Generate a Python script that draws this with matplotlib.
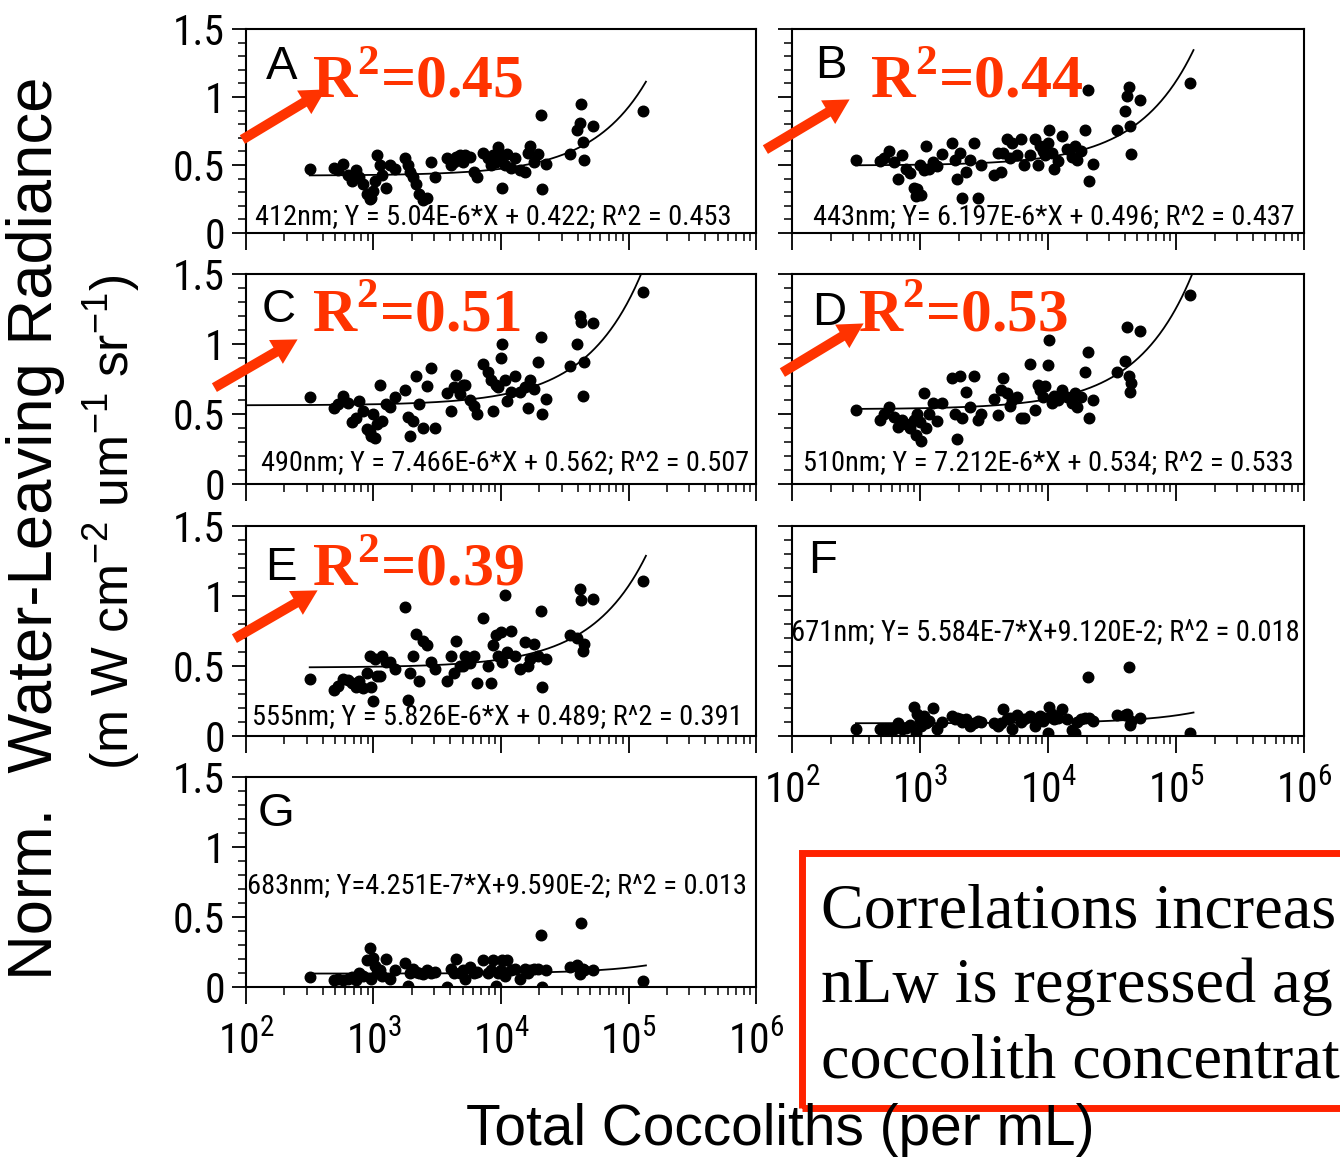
import numpy as np
import matplotlib
matplotlib.use('Agg')
import matplotlib.pyplot as plt
from matplotlib import font_manager
from matplotlib.font_manager import FontProperties
from matplotlib.patches import Rectangle, FancyArrowPatch
from matplotlib.ticker import LogLocator, NullFormatter, MultipleLocator, FixedLocator, FixedFormatter

# ---------------- data ----------------
coccoliths = [316, 490, 525, 575, 631, 676, 724, 776, 832, 891, 933, 955, 1000, 1023,
              1072, 1122, 1175, 1259, 1349, 1479, 1778, 1862, 1950, 2042, 2138, 2291,
              2455, 2630, 2818, 3020, 3802, 4074, 4266, 4467, 4786, 5012, 5248, 5754,
              6166, 6457, 7244, 7943, 8318, 8710, 9120, 9550, 10000, 10230, 10720,
              11220, 12020, 12880, 14130, 15490, 16220, 16980, 18200, 19500, 20420,
              20890, 22390, 34670, 39810, 41690, 42660, 43650, 44670, 52480, 128800]

nlw_412 = [0.47, 0.48, 0.46, 0.51, 0.43, 0.38, 0.46, 0.41, 0.36, 0.29,
           0.25, 0.26, 0.31, 0.38, 0.57, 0.50, 0.43, 0.33, 0.50, 0.47,
           0.55, 0.50, 0.45, 0.41, 0.36, 0.29, 0.24, 0.26, 0.52, 0.41,
           0.55, 0.50, 0.52, 0.56, 0.57, 0.52, 0.57, 0.56, 0.45, 0.41,
           0.59, 0.55, 0.50, 0.57, 0.52, 0.63, 0.57, 0.33, 0.50, 0.58,
           0.48, 0.55, 0.46, 0.45, 0.59, 0.64, 0.52, 0.58, 0.87, 0.32,
           0.51, 0.58, 0.76, 0.81, 0.95, 0.67, 0.54, 0.79, 0.90]
nlw_443 = [0.54, 0.53, 0.55, 0.60, 0.52, 0.40, 0.57, 0.47, 0.44, 0.33,
           0.27, 0.32, 0.50, 0.28, 0.46, 0.64, 0.47, 0.52, 0.49, 0.58,
           0.66, 0.54, 0.40, 0.59, 0.26, 0.45, 0.54, 0.66, 0.26, 0.50,
           0.43, 0.59, 0.45, 0.59, 0.69, 0.55, 0.66, 0.57, 0.69, 0.50,
           0.57, 0.69, 0.50, 0.64, 0.60, 0.57, 0.66, 0.76, 0.59, 0.47,
           0.53, 0.71, 0.62, 0.56, 0.64, 0.54, 0.60, 0.76, 1.05, 0.38,
           0.51, 0.76, 0.90, 1.01, 1.07, 0.79, 0.58, 0.98, 1.10]
nlw_490 = [0.62, 0.54, 0.57, 0.63, 0.58, 0.44, 0.47, 0.59, 0.52, 0.39,
           0.37, 0.34, 0.50, 0.33, 0.43, 0.71, 0.45, 0.57, 0.55, 0.62,
           0.67, 0.48, 0.34, 0.45, 0.77, 0.57, 0.40, 0.70, 0.83, 0.40,
           0.65, 0.52, 0.69, 0.78, 0.64, 0.71, 0.71, 0.60, 0.56, 0.50,
           0.86, 0.80, 0.74, 0.52, 0.71, 0.69, 0.90, 1.00, 0.74, 0.59,
           0.66, 0.77, 0.66, 0.69, 0.54, 0.74, 0.68, 0.87, 1.05, 0.50,
           0.61, 0.84, 1.00, 1.20, 1.16, 0.63, 0.87, 1.15, 1.37]
nlw_510 = [0.53, 0.46, 0.50, 0.55, 0.48, 0.41, 0.46, 0.43, 0.40, 0.46,
           0.35, 0.50, 0.44, 0.31, 0.65, 0.40, 0.50, 0.58, 0.45, 0.58,
           0.76, 0.50, 0.32, 0.77, 0.47, 0.66, 0.55, 0.77, 0.46, 0.50,
           0.61, 0.49, 0.67, 0.76, 0.65, 0.56, 0.60, 0.62, 0.47, 0.47,
           0.86, 0.53, 0.71, 0.67, 0.62, 0.70, 0.85, 1.03, 0.58, 0.63,
           0.60, 0.67, 0.62, 0.58, 0.65, 0.55, 0.62, 0.80, 0.94, 0.47,
           0.60, 0.80, 0.88, 1.12, 0.77, 0.66, 0.72, 1.09, 1.35]
nlw_555 = [0.41, 0.33, 0.36, 0.41, 0.40, 0.38, 0.35, 0.39, 0.34, 0.45,
           0.57, 0.35, 0.25, 0.55, 0.43, 0.43, 0.57, 0.53, 0.53, 0.48,
           0.92, 0.26, 0.45, 0.57, 0.73, 0.39, 0.68, 0.65, 0.53, 0.48,
           0.39, 0.57, 0.45, 0.68, 0.50, 0.50, 0.57, 0.52, 0.57, 0.38,
           0.84, 0.50, 0.38, 0.65, 0.72, 0.57, 0.74, 0.53, 1.01, 0.60,
           0.75, 0.57, 0.48, 0.67, 0.50, 0.55, 0.66, 0.57, 0.89, 0.35,
           0.55, 0.72, 0.70, 1.05, 0.97, 0.61, 0.66, 0.98, 1.11]
nlw_671 = [0.05, 0.05, 0.05, 0.05, 0.05, 0.09, 0.05, 0.06, 0.08, 0.21,
           0.02, 0.16, 0.12, 0.07, 0.14, 0.09, 0.11, 0.20, 0.05, 0.10,
           0.14, 0.12, 0.13, 0.12, 0.10, 0.12, 0.07, 0.09, 0.11, 0.10,
           0.09, 0.07, 0.09, 0.19, 0.12, 0.13, 0.05, 0.15, 0.10, 0.12,
           0.14, 0.07, 0.12, 0.14, 0.11, 0.13, 0.02, 0.21, 0.16, 0.12,
           0.13, 0.19, 0.12, 0.04, 0.02, 0.10, 0.12, 0.13, 0.42, 0.13,
           0.11, 0.15, 0.15, 0.16, 0.49, 0.08, 0.11, 0.13, 0.02]
nlw_683 = [0.07, 0.05, 0.06, 0.05, 0.06, 0.07, 0.05, 0.10, 0.08, 0.19,
           0.28, 0.06, 0.21, 0.15, 0.10, 0.12, 0.08, 0.20, 0.06, 0.12,
           0.17, 0.01, 0.10, 0.13, 0.11, 0.10, 0.09, 0.12, 0.10, 0.11,
           0.00, 0.13, 0.10, 0.20, 0.10, 0.12, 0.06, 0.14, 0.10, 0.11,
           0.19, 0.10, 0.12, 0.19, 0.01, 0.10, 0.12, 0.19, 0.08, 0.19,
           0.12, 0.13, 0.06, 0.13, 0.10, 0.12, 0.13, 0.13, 0.37, 0.00,
           0.12, 0.14, 0.16, 0.09, 0.46, 0.13, 0.12, 0.12, 0.04]

panel_letters = ['A', 'B', 'C', 'D', 'E', 'F', 'G']
wavelengths = [412, 443, 490, 510, 555, 671, 683]
slopes = [5.04e-6, 6.197e-6, 7.466e-6, 7.212e-6, 5.826e-6, 5.584e-7, 4.251e-7]
intercepts = [0.422, 0.496, 0.562, 0.534, 0.489, 9.120e-2, 9.590e-2]
eq_labels = ["412nm; Y = 5.04E-6*X + 0.422; R^2 = 0.453",
             "443nm; Y= 6.197E-6*X + 0.496; R^2 = 0.437",
             "490nm; Y = 7.466E-6*X + 0.562; R^2 = 0.507",
             "510nm; Y = 7.212E-6*X + 0.534; R^2 = 0.533",
             "555nm; Y = 5.826E-6*X + 0.489; R^2 = 0.391",
             "671nm; Y= 5.584E-7*X+9.120E-2; R^2 = 0.018",
             "683nm; Y=4.251E-7*X+9.590E-2; R^2 = 0.013"]
r2_callouts = ["0.45", "0.44", "0.51", "0.53", "0.39"]
y_series = [nlw_412, nlw_443, nlw_490, nlw_510, nlw_555, nlw_671, nlw_683]
# the note box runs off the right edge of the slide; only its visible part is kept
box_lines = ["Correlations increas", "nLw is regressed ag", "coccolith concentrat"]

# ---------------- fonts ----------------
SANS = 'Liberation Sans'
SERIF = 'Liberation Serif'
cond = None
prefs = ['Liberation Sans Narrow', 'Roboto Condensed', 'Open Sans Condensed', 'DejaVu Sans']
for pname in prefs:
    for f in font_manager.fontManager.ttflist:
        if f.name == pname and f.style == 'normal' and f.weight in (400, 'normal', 'regular', 'book') \
                and ('ondensed' in str(f.stretch) or 'Narrow' in f.name or 'Condensed' in f.name
                     or 'Condensed' in f.fname or 'Narrow' in f.fname):
            cond = f.fname
            break
    if cond:
        break
if cond:
    NFP = FontProperties(fname=cond)
    TICK_SIZE = 30
else:
    NFP = FontProperties(family=SANS)
    TICK_SIZE = 28

plt.rcParams['font.family'] = [SANS, 'DejaVu Sans']
plt.rcParams['mathtext.fontset'] = 'dejavusans'

W, H = 1340, 1167
fig = plt.figure(figsize=(W / 100, H / 100), dpi=100)
renderer = fig.canvas.get_renderer()

def fx(x):
    return x / W

def fy(y):
    return 1 - y / H

def fit(t, target, dim='w'):
    bb = t.get_window_extent(renderer)
    cur = bb.width if dim == 'w' else bb.height
    t.set_fontsize(t.get_fontsize() * target / cur)

cols = [(246, 756), (792, 1304)]
rows = [(29, 233), (274, 484), (526, 736), (777, 987)]
grid = [(0, 0), (0, 1), (1, 0), (1, 1), (2, 0), (2, 1), (3, 0)]

letter_pos = [(266, 79), (815, 78), (262, 322), (812, 325), (265, 580), (808, 573), (258, 826)]
eq_pos = [(255, 217, 476), (813, 217, 482), (261, 463, 489), (803, 463, 490),
          (252, 717, 490), (791, 633, 509), (247, 886, 500)]
r2_pos = [(312, 97, 211), (870, 97, 213), (312, 332, 209), (858, 332, 210), (312, 585, 212)]
arrows = [((240, 141), (328, 88)), ((763, 151), (852, 98)), ((212, 389), (300, 338)),
          ((780, 374), (866, 322)), ((232, 640), (320, 589))]

RED = '#ff3300'
x = np.array(coccoliths, dtype=float)

for i, (r, c) in enumerate(grid):
    l, rr = cols[c]
    t, b = rows[r]
    ax = fig.add_axes([fx(l), fy(b), (rr - l) / W, (b - t) / H])
    ax.set_xscale('log')
    ax.set_xlim(1e2, 1e6)
    ax.set_ylim(0, 1.5)
    ax.yaxis.set_major_locator(FixedLocator([0, 0.5, 1, 1.5]))
    ax.yaxis.set_major_formatter(FixedFormatter(['0', '0.5', '1', '1.5']))
    ax.yaxis.set_minor_locator(MultipleLocator(0.1))
    ax.xaxis.set_major_locator(LogLocator(base=10, numticks=10))
    ax.xaxis.set_minor_locator(LogLocator(base=10, subs=np.arange(2, 10), numticks=20))
    ax.xaxis.set_minor_formatter(NullFormatter())
    ax.tick_params(axis='y', which='major', direction='out', length=10, width=1.3,
                   pad=5, labelleft=(c == 0))
    ax.tick_params(axis='y', which='minor', direction='out', length=5.5, width=1.1)
    ax.tick_params(axis='x', which='major', direction='out', length=12, width=1.3,
                   pad=13, labelbottom=(i >= 5))
    ax.tick_params(axis='x', which='minor', direction='out', length=6, width=1.1)
    for lab in ax.get_yticklabels() + ax.get_xticklabels():
        lab.set_fontproperties(NFP)
        lab.set_fontsize(TICK_SIZE)
    for sp in ax.spines.values():
        sp.set_linewidth(1.5)

    y = np.array(y_series[i])
    ax.plot(x, y, 'o', color='k', ms=7.6, mec='k', zorder=3)
    x0 = 1e2 if i == 2 else x.min()
    xl = np.logspace(np.log10(x0), np.log10(1.37e5), 400)
    ax.plot(xl, slopes[i] * xl + intercepts[i], color='k', lw=1.3, zorder=2)

    lx, ly = letter_pos[i]
    fig.text(fx(lx), fy(ly), panel_letters[i], family=[SANS, 'DejaVu Sans'],
             fontsize=34, va='baseline', ha='left')
    ex, ey, ew = eq_pos[i]
    te = fig.text(fx(ex), fy(ey), eq_labels[i], fontproperties=NFP, va='center', ha='left')
    te.set_fontsize(18)
    fit(te, ew)

for j, val in enumerate(r2_callouts):
    rx, ry, rw = r2_pos[j]
    tr = fig.text(fx(rx), fy(ry), r'R$^{\mathdefault{2}}$=' + val, family=[SERIF, 'DejaVu Serif'],
                  weight='bold', color=RED, fontsize=44, va='baseline', ha='left')
    fit(tr, rw)
    (x1, y1), (x2, y2) = arrows[j]
    arr = FancyArrowPatch((fx(x1), fy(y1)), (fx(x2), fy(y2)), transform=fig.transFigure,
                          arrowstyle='simple,head_width=0.55,head_length=0.5,tail_width=0.2',
                          mutation_scale=36, color=RED, lw=0)
    fig.add_artist(arr)

t1 = fig.text(fx(36), fy(528), "Norm.  Water-Leaving Radiance", family=[SANS, 'DejaVu Sans'],
              rotation=90, ha='center', va='center', fontsize=44)
fit(t1, 905, 'h')
t2 = fig.text(fx(112), fy(522),
              r"(m W cm$^{\mathdefault{-2}}$ um$^{\mathdefault{-1}}$ sr$^{\mathdefault{-1}}$)",
              family=[SANS, 'DejaVu Sans'], rotation=90, ha='center', va='center', fontsize=36)
fit(t2, 495, 'h')
t3 = fig.text(fx(780), fy(1130), "Total Coccoliths (per mL)", family=[SANS, 'DejaVu Sans'],
              ha='center', va='center', fontsize=44)
fit(t3, 630)

rect = Rectangle((fx(802), fy(1108)), (1500 - 802) / W, (1108 - 853) / H, transform=fig.transFigure,
                 fill=False, ec='#ff2200', lw=5)
fig.add_artist(rect)
box_texts = []
for k, line in enumerate(box_lines):
    tb = fig.text(fx(821), fy(927 + 75 * k), line, family=[SERIF, 'DejaVu Serif'], fontsize=46,
                  va='baseline', ha='left')
    box_texts.append(tb)
fit(box_texts[0], 1336 - 821)
for tb in box_texts[1:]:
    tb.set_fontsize(box_texts[0].get_fontsize())

fig.savefig('out.png', dpi=100)
